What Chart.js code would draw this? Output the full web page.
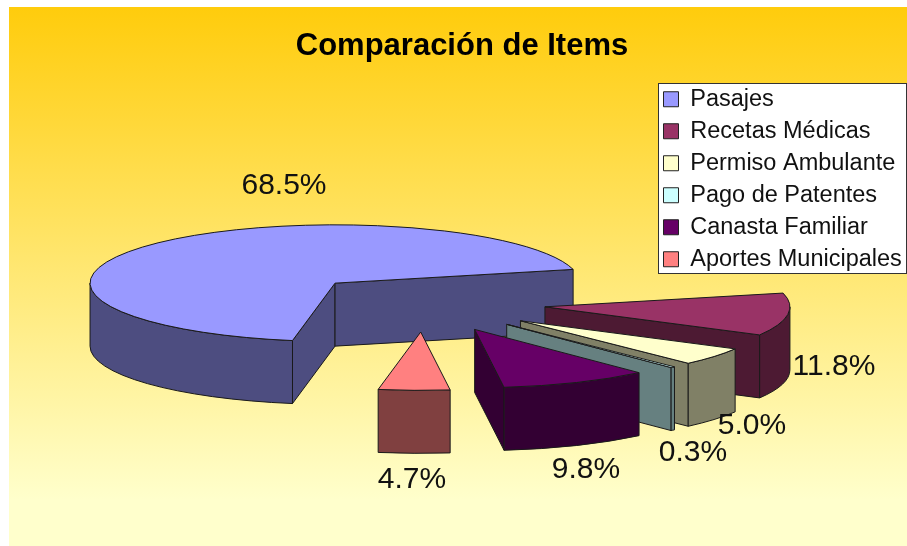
<!DOCTYPE html>
<html>
<head>
<meta charset="utf-8">
<title>Comparación de Items</title>
<script src="https://cdn.jsdelivr.net/npm/chart.js@4"></script>
<style>
  html, body { margin: 0; padding: 0; background: #fff; }
  canvas { display: block; }
</style>
</head>
<body>
<canvas id="itemsPie" width="907" height="546"></canvas>
<script>
// Chart data
const categories = ['Pasajes', 'Recetas Médicas', 'Permiso Ambulante', 'Pago de Patentes', 'Canasta Familiar', 'Aportes Municipales'];
const percentages = [68.5, 11.8, 5.0, 0.3, 9.8, 4.7];
const topColors = ['#9999ff', '#993366', '#ffffcc', '#ccffff', '#660066', '#ff8080'];
const sideColors = ['#4d4d80', '#4d1a33', '#808066', '#668080', '#330033', '#804040'];

// 3D look of the pie
const pieCenter = { x: 424, y: 303 };
const tilt = 0.238;
const depth = 63;
const explode = 122;
const lineColor = '#1a1a1a';

// where each percentage sits, relative to the pie center
const labelOffsets = [[-140, -117], [410, 64], [328, 123], [269, 150], [162, 167], [-12, 177]];

const pie3d = {
    id: 'pie3d',
    beforeDraw(chart) {
        const ctx = chart.ctx;
        const grad = ctx.createLinearGradient(0, 7, 0, 500);
        grad.addColorStop(0, '#ffcc0c');
        grad.addColorStop(1, '#ffffcc');
        ctx.fillStyle = grad;
        ctx.fillRect(9, 7, 898, 539);

        // legend box
        ctx.fillStyle = '#fff';
        ctx.fillRect(658, 83, 249, 190);
        ctx.strokeStyle = '#333';
        ctx.lineWidth = 1;
        ctx.strokeRect(658.5, 83.5, 248, 190);
    },
    afterLayout(chart) {
        const legend = chart.legend;
        const w = legend.width;
        legend.left = 655;
        legend.right = 655 + w;
        legend.top = 79;
        legend.bottom = 79 + legend.height;
    },
    beforeDatasetsDraw(chart) {
        const ctx = chart.ctx;
        chart.getDatasetMeta(0).data.forEach((arc, i) => drawSlice(ctx, arc, i));
        ctx.fillStyle = '#111';
        ctx.font = '30px "Liberation Sans", Arial, sans-serif';
        ctx.textAlign = 'center';
        ctx.textBaseline = 'middle';
        percentages.forEach((p, i) => {
            ctx.fillText(p.toFixed(1) + '%', pieCenter.x + labelOffsets[i][0], pieCenter.y + labelOffsets[i][1]);
        });
        return false; // slices are already drawn
    }
};

function drawSlice(ctx, arc, i) {
    const start = arc.startAngle;
    const end = arc.endAngle;
    const mid = (start + end) / 2;
    const r = arc.outerRadius;
    const cx = pieCenter.x + Math.cos(mid) * explode;
    const cy = pieCenter.y + Math.sin(mid) * explode * tilt;

    ctx.save();
    ctx.fillStyle = sideColors[i];
    ctx.strokeStyle = lineColor;
    ctx.lineWidth = 1;
    ctx.lineJoin = 'round';

    // flat side walls, only the ones facing the viewer
    [[start, -Math.PI / 2], [end, Math.PI / 2]].forEach(([a, turn]) => {
        if (Math.sin(a + turn) <= 0) return;
        const px = cx + Math.cos(a) * r;
        const py = cy + Math.sin(a) * r * tilt;
        ctx.beginPath();
        ctx.moveTo(cx, cy);
        ctx.lineTo(px, py);
        ctx.lineTo(px, py + depth);
        ctx.lineTo(cx, cy + depth);
        ctx.closePath();
        ctx.fill();
        ctx.stroke();
    });

    // rounded outer wall, lower half of the ellipse only
    for (let k = 0; k < 3; k++) {
        const lo = Math.max(start, k * 2 * Math.PI);
        const hi = Math.min(end, k * 2 * Math.PI + Math.PI);
        if (hi <= lo) continue;
        ctx.beginPath();
        ctx.ellipse(cx, cy, r, r * tilt, 0, lo, hi);
        ctx.ellipse(cx, cy + depth, r, r * tilt, 0, hi, lo, true);
        ctx.closePath();
        ctx.fill();
        ctx.stroke();
    }

    // top face comes from the library's own arc, squashed
    ctx.save();
    ctx.translate(cx, cy);
    ctx.scale(1, tilt);
    ctx.translate(-arc.x, -arc.y);
    arc.draw(ctx);
    ctx.restore();

    ctx.beginPath();
    ctx.moveTo(cx, cy);
    ctx.ellipse(cx, cy, r, r * tilt, 0, start, end);
    ctx.closePath();
    ctx.stroke();
    ctx.restore();
}

new Chart(document.getElementById('itemsPie').getContext('2d'), {
    type: 'pie',
    data: {
        labels: categories,
        datasets: [{
            data: percentages,
            backgroundColor: topColors,
            borderWidth: 0
        }]
    },
    plugins: [pie3d],
    options: {
        responsive: false,
        animation: false,
        rotation: 190,
        radius: 245,
        layout: { padding: { left: 17 } },
        plugins: {
            title: {
                display: true,
                text: 'Comparación de Items',
                color: '#000',
                font: { family: '"Liberation Sans", Arial, sans-serif', size: 31, weight: 'bold' },
                padding: { top: 28, bottom: 17 }
            },
            legend: {
                position: 'right',
                align: 'start',
                labels: {
                    color: '#111',
                    font: { family: '"Liberation Sans", Arial, sans-serif', size: 23.5 },
                    boxWidth: 15,
                    boxHeight: 15,
                    padding: 8.5,
                    generateLabels(chart) {
                        const items = Chart.overrides.pie.plugins.legend.labels.generateLabels(chart);
                        items.forEach(item => {
                            item.strokeStyle = '#222';
                            item.lineWidth = 1;
                        });
                        return items;
                    }
                }
            },
            tooltip: { enabled: false }
        }
    }
});
</script>
</body>
</html>
